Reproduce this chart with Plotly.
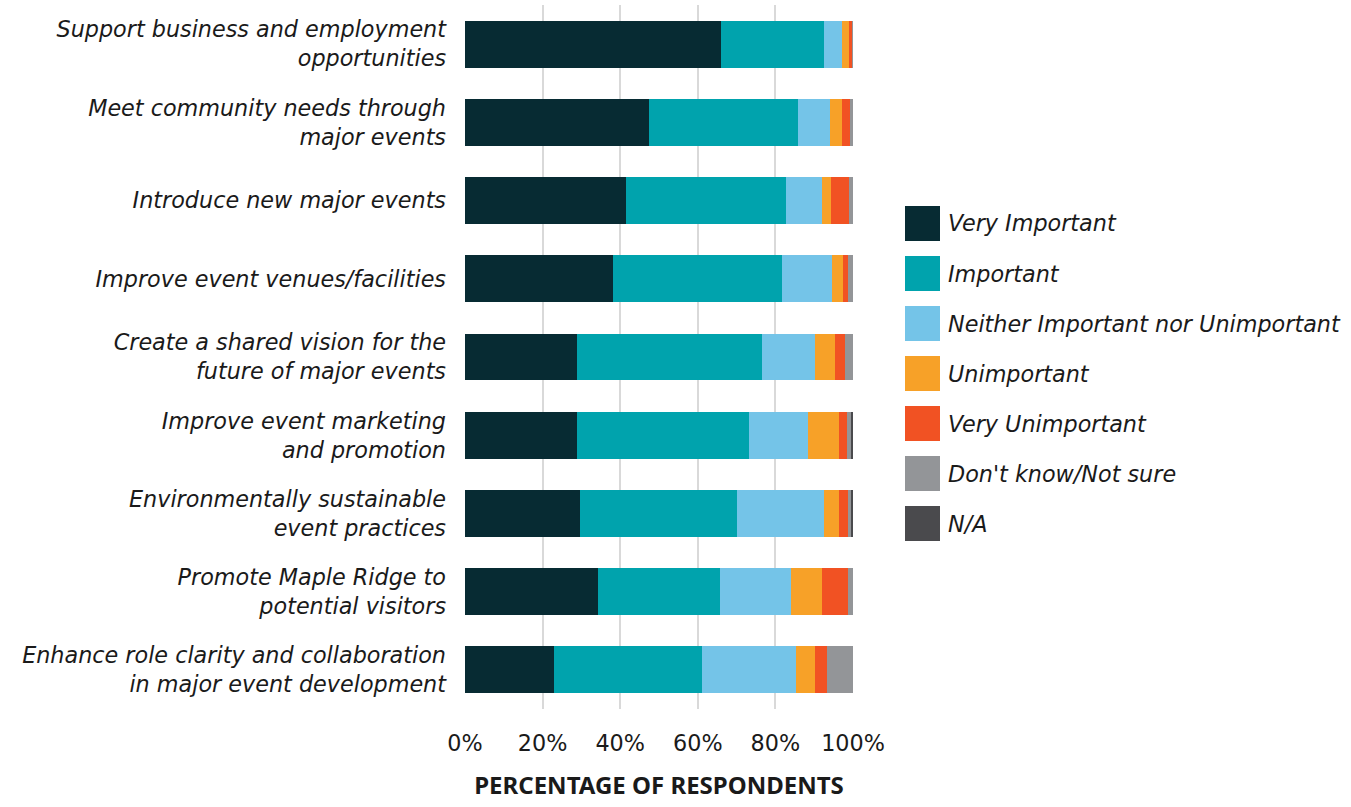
import plotly.graph_objects as go

# Survey statements (top to bottom)
categories = [
    "Support business and employment<br>opportunities",
    "Meet community needs through<br>major events",
    "Introduce new major events",
    "Improve event venues/facilities",
    "Create a shared vision for the<br>future of major events",
    "Improve event marketing<br>and promotion",
    "Environmentally sustainable<br>event practices",
    "Promote Maple Ridge to<br>potential visitors",
    "Enhance role clarity and collaboration<br>in major event development",
]

# Share of respondents (%) per response level
very_important = [65.9, 47.4, 41.6, 38.2, 28.9, 28.9, 29.6, 34.4, 23.0]
important = [26.5, 38.4, 41.2, 43.6, 47.6, 44.2, 40.4, 31.2, 38.1]
neither = [4.8, 8.3, 9.3, 12.7, 13.8, 15.2, 22.4, 18.5, 24.1]
unimportant = [1.8, 3.1, 2.1, 2.8, 5.1, 8.2, 3.9, 8.0, 5.1]
very_unimportant = [0.9, 1.9, 4.8, 1.3, 2.6, 2.0, 2.4, 6.5, 3.1]
dont_know = [0.1, 0.9, 1.0, 1.4, 2.0, 1.1, 0.7, 1.4, 6.6]
not_applicable = [0.0, 0.0, 0.0, 0.0, 0.0, 0.4, 0.6, 0.0, 0.0]

series_names = [
    "Very Important",
    "Important",
    "Neither Important nor Unimportant",
    "Unimportant",
    "Very Unimportant",
    "Don't know/Not sure",
    "N/A",
]
series_values = [very_important, important, neither, unimportant,
                 very_unimportant, dont_know, not_applicable]
series_colors = ["#072b33", "#00a3ad", "#74c4e8", "#f7a128",
                 "#f15223", "#939598", "#4a4a4d"]

x_ticks = [0, 20, 40, 60, 80, 100]
x_tick_labels = ["0%", "20%", "40%", "60%", "80%", "100%"]

FONT = "DejaVu Sans"
TITLE_FONT = "Noto Sans"
TEXT = "#1a1a1a"
SIZE = 22.3

fig = go.Figure()
for name, vals, color in zip(series_names, series_values, series_colors):
    fig.add_trace(go.Bar(
        y=categories, x=vals, name=name, orientation="h",
        marker=dict(color=color, line=dict(width=0)),
        width=0.6, showlegend=False,
        hovertemplate="%{y}: %{x:.1f}%<extra>" + name + "</extra>",
    ))

# Plot area in pixels; used to place the legend in paper coordinates
W, H = 1351, 807
PX0, PX1, PY0, PY1 = 465, 853, 5, 709


def px_to_paper_x(px):
    return (px - PX0) / (PX1 - PX0)


def px_to_paper_y(py):
    return 1 - (py - PY0) / (PY1 - PY0)


# Legend drawn as large square swatches with italic labels
leg_x0, leg_y0, leg_step, sw = 905, 206, 50, 35
for i, (name, color) in enumerate(zip(series_names, series_colors)):
    top = leg_y0 + i * leg_step
    fig.add_shape(type="rect", xref="paper", yref="paper",
                  x0=px_to_paper_x(leg_x0), x1=px_to_paper_x(leg_x0 + sw),
                  y0=px_to_paper_y(top + sw), y1=px_to_paper_y(top),
                  fillcolor=color, line=dict(width=0))
    fig.add_annotation(xref="paper", yref="paper",
                       x=px_to_paper_x(leg_x0 + sw + 6),
                       y=px_to_paper_y(top + sw / 2),
                       text="<i>" + name + "</i>", showarrow=False,
                       xanchor="left", yanchor="middle",
                       font=dict(family=FONT, size=SIZE, color=TEXT))

fig.update_layout(
    width=W, height=H,
    margin=dict(l=PX0, r=W - PX1, t=PY0, b=H - PY1),
    barmode="stack",
    plot_bgcolor="white", paper_bgcolor="white",
    font=dict(family=FONT, size=SIZE, color=TEXT),
)
fig.update_xaxes(
    range=[0, 100], tickvals=x_ticks, ticktext=x_tick_labels,
    showgrid=True, gridcolor="#d9d9d9", gridwidth=2, zeroline=False,
    showline=False, ticks="", ticklabelstandoff=19,
    tickfont=dict(family=FONT, size=SIZE, color=TEXT),
    title=dict(text="<b>PERCENTAGE OF RESPONDENTS</b>", standoff=21,
               font=dict(family=TITLE_FONT, size=24, color=TEXT)),
    fixedrange=True,
)
fig.update_yaxes(
    autorange="reversed", showgrid=False, showline=False, ticks="",
    ticklabelstandoff=18,
    tickfont=dict(family=FONT, size=SIZE, color=TEXT, style="italic"),
    fixedrange=True,
)

fig.write_html("out.html")
